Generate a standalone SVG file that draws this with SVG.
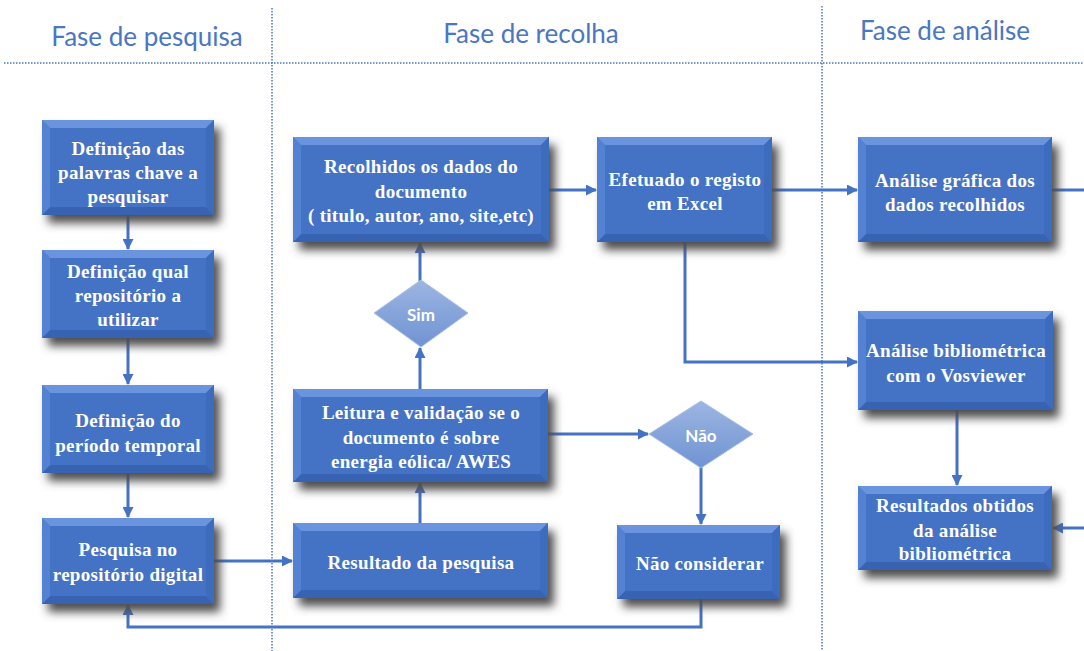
<svg xmlns="http://www.w3.org/2000/svg" width="1084" height="651" viewBox="0 0 1084 651">
<defs>
<style>
.hdr{font-family:Lato,"Open Sans","Noto Sans",sans-serif;font-size:26px;fill:#4a76c2;text-anchor:middle}
.sep{stroke:#4a76c2;stroke-width:1.5;stroke-dasharray:1.5 1.5;fill:none}
.face{fill:#4472c4}
.bt{fill:#6a94de}
.bl{fill:#5482d2}
.br{fill:#3d6bbd}
.bb{fill:#3863b3}
.shadow{fill:#4d4d4d;filter:url(#sh)}
.lbl{font-family:"Liberation Serif","Times New Roman",serif;font-weight:bold;font-size:19px;letter-spacing:0.3px;fill:#fff;text-anchor:middle;dominant-baseline:central}
.dlbl{font-family:Lato,"Open Sans","Noto Sans",sans-serif;font-weight:bold;font-size:17px;fill:#fff;text-anchor:middle;dominant-baseline:central}
.dia{fill:url(#dg);stroke:#a9bfe6;stroke-width:1}
.con{stroke:#4472c4;stroke-width:3;fill:none}
</style>
<filter id="sh" x="-20%" y="-20%" width="140%" height="160%">
<feGaussianBlur stdDeviation="5"/>
</filter>
<linearGradient id="dg" x1="0" y1="0" x2="0" y2="1">
<stop offset="0" stop-color="#9db5e2"/>
<stop offset="1" stop-color="#6f93d2"/>
</linearGradient>
<marker id="ah" markerUnits="userSpaceOnUse" markerWidth="11" markerHeight="11" refX="10" refY="5.5" orient="auto">
<path d="M0,0 L11,5.5 L0,11 z" fill="#4472c4"/>
</marker>
</defs>

<g id="headers">
<text class="hdr" x="147" y="46">Fase de pesquisa</text>
<text class="hdr" x="531" y="43">Fase de recolha</text>
<text class="hdr" x="945" y="40">Fase de análise</text>
<line class="sep" x1="4" y1="63" x2="1084" y2="63"/>
<line class="sep" x1="272" y1="8" x2="272" y2="651"/>
<line class="sep" x1="822" y1="6" x2="822" y2="651"/>
</g>

<g id="connectors">
<line class="con" x1="128" y1="215" x2="128" y2="249" marker-end="url(#ah)"/>
<line class="con" x1="128" y1="338" x2="128" y2="384" marker-end="url(#ah)"/>
<line class="con" x1="128" y1="473" x2="128" y2="517" marker-end="url(#ah)"/>
<line class="con" x1="214" y1="561" x2="292" y2="561" marker-end="url(#ah)"/>
<line class="con" x1="420" y1="523" x2="420" y2="483" marker-end="url(#ah)"/>
<line class="con" x1="420" y1="389" x2="420" y2="348" marker-end="url(#ah)"/>
<line class="con" x1="420" y1="281" x2="420" y2="243" marker-end="url(#ah)"/>
<line class="con" x1="549" y1="190" x2="596" y2="190" marker-end="url(#ah)"/>
<line class="con" x1="772" y1="190" x2="857" y2="190" marker-end="url(#ah)"/>
<polyline class="con" points="685,242 685,362 857,362" marker-end="url(#ah)"/>
<line class="con" x1="548" y1="434" x2="648" y2="434" marker-end="url(#ah)"/>
<line class="con" x1="701" y1="467" x2="701" y2="524" marker-end="url(#ah)"/>
<polyline class="con" points="701,599 701,627 128,627 128,605" marker-end="url(#ah)"/>
<line class="con" x1="957" y1="410" x2="957" y2="485" marker-end="url(#ah)"/>
<line class="con" x1="1052" y1="190" x2="1084" y2="190"/>
<line class="con" x1="1084" y1="528" x2="1053" y2="528" marker-end="url(#ah)"/>
</g>

<g id="n1">
<rect class="shadow" x="48" y="128" width="172" height="95"/>
<rect class="face" x="42" y="120" width="172" height="95"/>
<polygon class="bt" points="42,120 214,120 206,128 50,128"/>
<polygon class="bb" points="42,215 214,215 206,207 50,207"/>
<polygon class="bl" points="42,120 50,128 50,207 42,215"/>
<polygon class="br" points="214,120 206,128 206,207 214,215"/>
<text class="lbl" x="128" y="148">Definição das</text>
<text class="lbl" x="128" y="172">palavras chave a</text>
<text class="lbl" x="128" y="196">pesquisar</text>
</g>

<g id="n2">
<rect class="shadow" x="48" y="258" width="172" height="88"/>
<rect class="face" x="42" y="250" width="172" height="88"/>
<polygon class="bt" points="42,250 214,250 206,258 50,258"/>
<polygon class="bb" points="42,338 214,338 206,330 50,330"/>
<polygon class="bl" points="42,250 50,258 50,330 42,338"/>
<polygon class="br" points="214,250 206,258 206,330 214,338"/>
<text class="lbl" x="128" y="271">Definição qual</text>
<text class="lbl" x="128" y="295">repositório a</text>
<text class="lbl" x="128" y="319">utilizar</text>
</g>

<g id="n3">
<rect class="shadow" x="48" y="393" width="172" height="88"/>
<rect class="face" x="42" y="385" width="172" height="88"/>
<polygon class="bt" points="42,385 214,385 206,393 50,393"/>
<polygon class="bb" points="42,473 214,473 206,465 50,465"/>
<polygon class="bl" points="42,385 50,393 50,465 42,473"/>
<polygon class="br" points="214,385 206,393 206,465 214,473"/>
<text class="lbl" x="128" y="420">Definição do</text>
<text class="lbl" x="128" y="445">período temporal</text>
</g>

<g id="n4">
<rect class="shadow" x="48" y="526" width="172" height="86"/>
<rect class="face" x="42" y="518" width="172" height="86"/>
<polygon class="bt" points="42,518 214,518 206,526 50,526"/>
<polygon class="bb" points="42,604 214,604 206,596 50,596"/>
<polygon class="bl" points="42,518 50,526 50,596 42,604"/>
<polygon class="br" points="214,518 206,526 206,596 214,604"/>
<text class="lbl" x="128" y="549">Pesquisa no</text>
<text class="lbl" x="128" y="574">repositório digital</text>
</g>

<g id="n5">
<rect class="shadow" x="299" y="145" width="256" height="105"/>
<rect class="face" x="293" y="137" width="256" height="105"/>
<polygon class="bt" points="293,137 549,137 541,145 301,145"/>
<polygon class="bb" points="293,242 549,242 541,234 301,234"/>
<polygon class="bl" points="293,137 301,145 301,234 293,242"/>
<polygon class="br" points="549,137 541,145 541,234 549,242"/>
<text class="lbl" x="421" y="166">Recolhidos os dados do</text>
<text class="lbl" x="421" y="191">documento</text>
<text class="lbl" x="421" y="215">( titulo, autor, ano, site,etc)</text>
</g>

<g id="n6">
<rect class="shadow" x="603" y="145" width="175" height="105"/>
<rect class="face" x="597" y="137" width="175" height="105"/>
<polygon class="bt" points="597,137 772,137 764,145 605,145"/>
<polygon class="bb" points="597,242 772,242 764,234 605,234"/>
<polygon class="bl" points="597,137 605,145 605,234 597,242"/>
<polygon class="br" points="772,137 764,145 764,234 772,242"/>
<text class="lbl" x="685" y="179">Efetuado o registo</text>
<text class="lbl" x="685" y="203">em Excel</text>
</g>

<g id="n7">
<rect class="shadow" x="864" y="145" width="194" height="105"/>
<rect class="face" x="858" y="137" width="194" height="105"/>
<polygon class="bt" points="858,137 1052,137 1044,145 866,145"/>
<polygon class="bb" points="858,242 1052,242 1044,234 866,234"/>
<polygon class="bl" points="858,137 866,145 866,234 858,242"/>
<polygon class="br" points="1052,137 1044,145 1044,234 1052,242"/>
<text class="lbl" x="955" y="180">Análise gráfica dos</text>
<text class="lbl" x="955" y="204">dados recolhidos</text>
</g>

<g id="n8">
<rect class="shadow" x="864" y="319" width="195" height="99"/>
<rect class="face" x="858" y="311" width="195" height="99"/>
<polygon class="bt" points="858,311 1053,311 1045,319 866,319"/>
<polygon class="bb" points="858,410 1053,410 1045,402 866,402"/>
<polygon class="bl" points="858,311 866,319 866,402 858,410"/>
<polygon class="br" points="1053,311 1045,319 1045,402 1053,410"/>
<text class="lbl" x="956" y="350">Análise bibliométrica</text>
<text class="lbl" x="956" y="375">com o Vosviewer</text>
</g>

<g id="n9">
<rect class="shadow" x="299" y="397" width="255" height="93"/>
<rect class="face" x="293" y="389" width="255" height="93"/>
<polygon class="bt" points="293,389 548,389 540,397 301,397"/>
<polygon class="bb" points="293,482 548,482 540,474 301,474"/>
<polygon class="bl" points="293,389 301,397 301,474 293,482"/>
<polygon class="br" points="548,389 540,397 540,474 548,482"/>
<text class="lbl" x="421" y="412">Leitura e validação se o</text>
<text class="lbl" x="421" y="437">documento é sobre</text>
<text class="lbl" x="421" y="461">energia eólica/ AWES</text>
</g>

<g id="n10">
<rect class="shadow" x="299" y="531" width="255" height="75"/>
<rect class="face" x="293" y="523" width="255" height="75"/>
<polygon class="bt" points="293,523 548,523 540,531 301,531"/>
<polygon class="bb" points="293,598 548,598 540,590 301,590"/>
<polygon class="bl" points="293,523 301,531 301,590 293,598"/>
<polygon class="br" points="548,523 540,531 540,590 548,598"/>
<text class="lbl" x="421" y="562">Resultado da pesquisa</text>
</g>

<g id="n11">
<rect class="shadow" x="623" y="533" width="163" height="74"/>
<rect class="face" x="617" y="525" width="163" height="74"/>
<polygon class="bt" points="617,525 780,525 772,533 625,533"/>
<polygon class="bb" points="617,599 780,599 772,591 625,591"/>
<polygon class="bl" points="617,525 625,533 625,591 617,599"/>
<polygon class="br" points="780,525 772,533 772,591 780,599"/>
<text class="lbl" x="700" y="563">Não considerar</text>
</g>

<g id="n12">
<rect class="shadow" x="864" y="494" width="194" height="84"/>
<rect class="face" x="858" y="486" width="194" height="84"/>
<polygon class="bt" points="858,486 1052,486 1044,494 866,494"/>
<polygon class="bb" points="858,570 1052,570 1044,562 866,562"/>
<polygon class="bl" points="858,486 866,494 866,562 858,570"/>
<polygon class="br" points="1052,486 1044,494 1044,562 1052,570"/>
<text class="lbl" x="955" y="505">Resultados obtidos</text>
<text class="lbl" x="955" y="530">da análise</text>
<text class="lbl" x="955" y="553">bibliométrica</text>
</g>

<g id="d-sim">
<polygon class="dia" points="421,280 468,313 421,347 374,313"/>
<text class="dlbl" x="421" y="314">Sim</text>
</g>

<g id="d-nao">
<polygon class="dia" points="701,401 753,434 701,468 649,434"/>
<text class="dlbl" x="701" y="435">Não</text>
</g>
</svg>
